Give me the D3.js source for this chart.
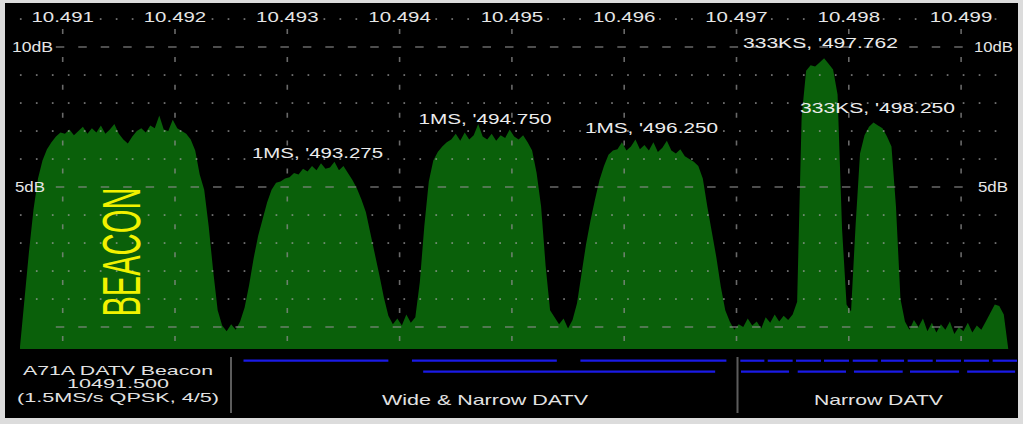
<!DOCTYPE html>
<html><head><meta charset="utf-8">
<script src="https://cdn.jsdelivr.net/npm/d3@7"></script>
<style>html,body{margin:0;padding:0;background:#dcdcdc;overflow:hidden}svg{display:block}</style>
</head><body><svg id="c" width="1023" height="424"></svg>
<script>
// ---------- data ----------
const freqTicks = [10491, 10492, 10493, 10494, 10495, 10496, 10497, 10498, 10499];
const freqTickLabels = ["10.491", "10.492", "10.493", "10.494", "10.495", "10.496", "10.497", "10.498", "10.499"];
const dbGridLevels = [0, 5, 10];
const dbDotLevels = [1, 2, 3, 4, 6, 7, 8, 9, 11];
const dbLabelLevels = [10, 5];
const dbLabels = ["10dB", "5dB"];

const spectrumStartMHz = 10490.62;
const spectrumStepMHz = 0.04;
const spectrumDb = [
  -0.7, 1.0, 2.7, 4.2, 5.3, 5.95, 6.35, 6.6, 6.8, 6.95,
  6.9, 7.05, 6.85, 7.0, 7.15, 6.9, 7.1, 6.95, 7.2, 6.9,
  7.05, 7.25, 6.9, 6.7, 6.55, 6.8, 7.0, 7.1, 6.95, 7.2,
  7.1, 7.55, 7.05, 7.0, 7.4, 7.1, 7.0, 6.9, 6.7, 6.3,
  5.45, 4.9, 3.6, 2.0, 0.6, 0.05, -0.15, 0.1, -0.1, 0.2,
  0.7, 1.5, 2.45, 3.25, 3.85, 4.45, 4.9, 5.15, 5.2, 5.3,
  5.35, 5.5, 5.45, 5.65, 5.55, 5.75, 5.6, 5.85, 5.65, 5.7,
  5.9, 5.6, 5.75, 5.5, 5.25, 4.95, 4.55, 4.1, 3.35, 2.6,
  1.85, 1.05, 0.4, 0.1, 0.3, 0.05, 0.45, 0.15, 0.35, 1.6,
  3.6, 5.2, 5.95, 6.25, 6.45, 6.6, 6.7, 6.9, 6.65, 6.95,
  6.7, 6.85, 7.25, 6.8, 6.7, 6.9, 6.65, 6.85, 6.75, 7.05,
  6.8, 6.7, 6.85, 6.6, 6.3, 5.5, 4.3, 2.2, 0.6, 0.35,
  0.1, 0.3, -0.05, 0.25, 0.85, 1.9, 2.95, 3.8, 4.55, 5.25,
  5.75, 6.15, 6.3, 6.35, 6.6, 6.3, 6.45, 6.7, 6.35, 6.5,
  6.3, 6.6, 6.25, 6.4, 6.65, 6.3, 6.2, 6.35, 6.1, 6.0,
  5.9, 5.75, 5.3, 4.3, 3.4, 2.5, 1.45, 0.6, 0.2, -0.1,
  0.1, 0.0, 0.3, 0.05, 0.2, -0.05, 0.35, 0.15, 0.45, 0.2,
  0.4, 0.25, 0.45, 0.9, 7.5, 9.15, 9.35, 9.3, 9.45, 9.6,
  9.4, 9.2, 8.3, 3.5, 0.8, 0.55, 3.6, 6.2, 6.85, 7.15,
  7.3, 7.2, 7.1, 6.8, 6.45, 4.3, 1.0, 0.2, -0.1, 0.25,
  0.0, 0.3, -0.15, 0.15, -0.2, 0.1, -0.1, 0.2, -0.25, 0.0,
  -0.15, 0.15, -0.2, 0.05, -0.1, 0.2, 0.5, 0.8, 0.75, 0.45,
  -0.8
];

const annotationTexts = ["1MS, '493.275", "1MS, '494.750", "1MS, '496.250", "333KS, '497.762", "333KS, '498.250"];
const annotationFreqs = [10493.269, 10494.760, 10496.243, 10497.748, 10498.256];
const annotationDb = [6.04, 7.25, 6.93, 9.95, 7.64];

const wideRow1 = [[10492.61, 10493.90], [10494.11, 10495.40], [10495.61, 10496.91]];
const wideRow2 = [[10494.21, 10496.81]];
const narrowRow1 = [[10497.034, 10497.248], [10497.278, 10497.500], [10497.530, 10497.752], [10497.779, 10498.002],
  [10498.035, 10498.257], [10498.287, 10498.492], [10498.524, 10498.747], [10498.776, 10498.999],
  [10499.025, 10499.248], [10499.281, 10499.504]];
const narrowRow2 = [[10497.040, 10497.468], [10497.545, 10497.975], [10498.046, 10498.480], [10498.545, 10498.982], [10499.054, 10499.481]];

const beaconLines = ["A71A DATV Beacon", "10491.500", "(1.5MS/s QPSK, 4/5)"];
const sectionLabels = ["Wide & Narrow DATV", "Narrow DATV"];
const spectrumTitle = "BEACON";

// ---------- drawing ----------
const svg = d3.select("#c");
const FONT = "'Liberation Sans', Arial, sans-serif";
const x = d3.scaleLinear().domain([10491, 10499]).range([62.7, 961.1]);
const y = d3.scaleLinear().domain([0, 10]).range([327, 47]);
const plotBottom = 349;

svg.append("rect").attr("width", 1023).attr("height", 424).attr("fill", "#dcdcdc");
svg.append("rect").attr("x", 5).attr("y", 3).attr("width", 1013).attr("height", 415).attr("fill", "#000");

const defs = svg.append("defs");
defs.append("clipPath").attr("id", "pc").append("rect").attr("x", 5).attr("y", 3).attr("width", 1012).attr("height", 415);

function txt(g, s, px, py, size, len, anchor, fill) {
  const t = g.append("text").attr("x", px).attr("y", py).text(s)
    .attr("font-family", FONT).attr("font-size", size)
    .attr("text-anchor", anchor).attr("fill", fill);
  if (len) t.attr("textLength", len).attr("lengthAdjust", "spacingAndGlyphs");
  return t;
}

const root = svg.append("g").attr("clip-path", "url(#pc)");

// spectrum area
const area = d3.area()
  .x((d, i) => x(spectrumStartMHz + i * spectrumStepMHz))
  .y0(plotBottom)
  .y1(d => Math.min(y(d), plotBottom));
root.append("path").datum(spectrumDb).attr("d", area).attr("fill", "#0a600a");

// dot grid
const grid = root.append("g").attr("opacity", 0.75);
const dotXs = d3.range(20.7, 1001, 15.98);
dbDotLevels.forEach(lv => {
  dotXs.forEach(dx => {
    grid.append("rect").attr("x", dx - 0.8).attr("y", y(lv) - 0.8).attr("width", 1.7).attr("height", 1.7).attr("fill", "#a0a0a0");
  });
});
// horizontal dashed lines
dbGridLevels.forEach(lv => {
  grid.append("line").attr("x1", 55.8).attr("x2", 963).attr("y1", y(lv)).attr("y2", y(lv))
    .attr("stroke", "#8c8c8c").attr("stroke-width", 1.6).attr("stroke-dasharray", "8.5,13.96");
});
// vertical dashed lines
freqTicks.forEach(f => {
  grid.append("line").attr("x1", x(f)).attr("x2", x(f)).attr("y1", 29).attr("y2", plotBottom)
    .attr("stroke", "#8c8c8c").attr("stroke-width", 1.6).attr("stroke-dasharray", "5,22.9");
});

// top frequency labels
freqTicks.forEach((f, i) => {
  root.append("rect").attr("x", x(f) - 32).attr("y", 7).attr("width", 64).attr("height", 18).attr("fill", "#000");
  txt(root, freqTickLabels[i], x(f), 21.6, 15, 62.5, "middle", "#e6e6e6");
});

// dB labels
const dbLabelLen = [41, 30];
const dbLabelLenR = [39, 30];
dbLabelLevels.forEach((lv, i) => {
  txt(root, dbLabels[i], 12 + (i ? 3 : 0), y(lv) + 5, 14.5, dbLabelLen[i], "start", "#e6e6e6");
  txt(root, dbLabels[i], 974 + (i ? 4 : 0), y(lv) + 5, 14.5, dbLabelLenR[i], "start", "#e6e6e6");
});

// annotations
const annLen = [131, 133, 133, 155, 155];
annotationTexts.forEach((s, i) => {
  txt(root, s, x(annotationFreqs[i]), y(annotationDb[i]), 15, annLen[i], "middle", "#ececec");
});

// BEACON
root.append("text").text(spectrumTitle)
  .attr("transform", "translate(140,252) rotate(-90)")
  .attr("font-family", FONT).attr("font-size", 53).attr("text-anchor", "middle")
  .attr("fill", "#f2f200").attr("textLength", 129).attr("lengthAdjust", "spacingAndGlyphs");

// bottom panel
const bp = root.append("g");
const bLens = [190, 102, 202];
const bBase = [374.5, 388, 401.5];
beaconLines.forEach((s, i) => txt(bp, s, 118, bBase[i], 13.5, bLens[i], "middle", "#e2e2e2"));
txt(bp, sectionLabels[0], 485, 405, 15, 206, "middle", "#e2e2e2");
txt(bp, sectionLabels[1], 878.5, 405, 15, 129, "middle", "#e2e2e2");
[231, 737.5].forEach(sx => {
  bp.append("line").attr("x1", sx).attr("x2", sx).attr("y1", 357).attr("y2", 413)
    .attr("stroke", "#5c5c5c").attr("stroke-width", 2);
});
function segs(arr, yy) {
  arr.forEach(s => {
    bp.append("line").attr("x1", x(s[0])).attr("x2", Math.min(x(s[1]), 1017)).attr("y1", yy).attr("y2", yy)
      .attr("stroke", "#1a1ae6").attr("stroke-width", 2.2);
  });
}
segs(wideRow1, 360.7);
segs(wideRow2, 371.7);
segs(narrowRow1, 360.7);
segs(narrowRow2, 371.7);
</script></body></html>
